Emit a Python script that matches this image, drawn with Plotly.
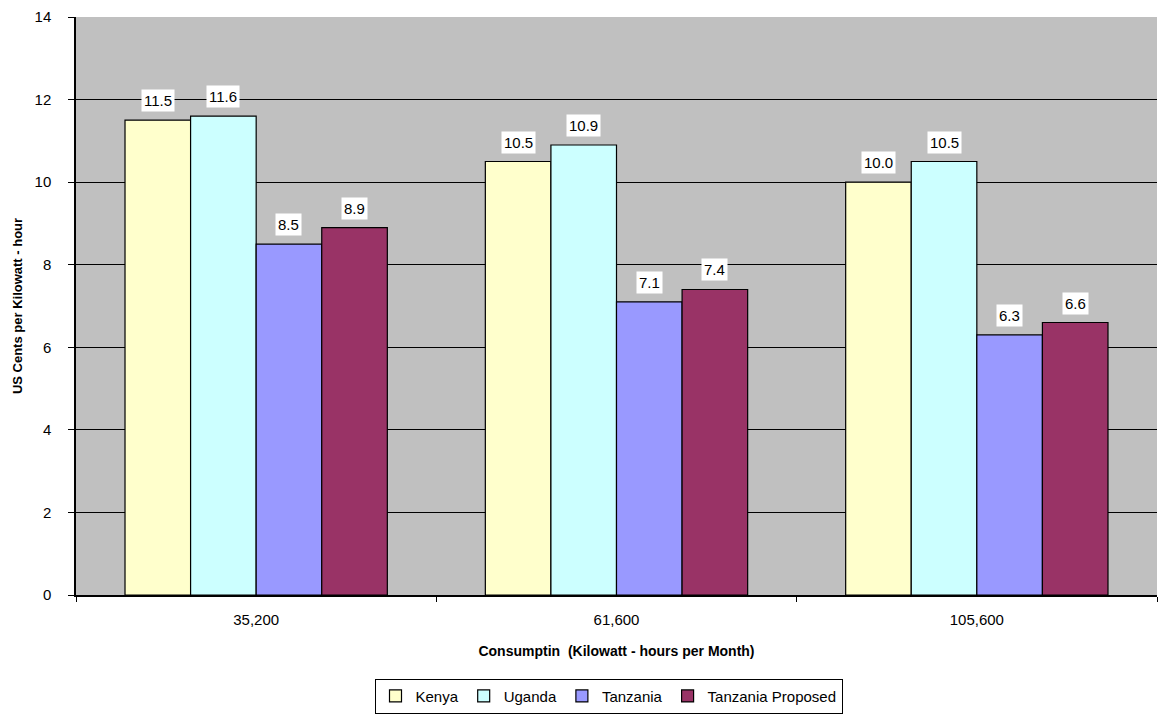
import plotly.graph_objects as go

categories = ["35,200", "61,600", "105,600"]
series_names = ["Kenya", "Uganda", "Tanzania", "Tanzania Proposed"]
kenya = [11.5, 10.5, 10.0]
uganda = [11.6, 10.9, 10.5]
tanzania = [8.5, 7.1, 6.3]
tanzania_proposed = [8.9, 7.4, 6.6]
y_ticks = [0, 2, 4, 6, 8, 10, 12, 14]

series_values = [kenya, uganda, tanzania, tanzania_proposed]
colors = ["#FFFFCC", "#CCFFFF", "#9999FF", "#993366"]

FONT = "Liberation Sans, Arial, sans-serif"
bar_w = 0.182
xs = list(range(len(categories)))

fig = go.Figure()
annotations = []
for k, (name, vals, col) in enumerate(zip(series_names, series_values, colors)):
    off = (k - 1.5) * bar_w
    fig.add_trace(go.Bar(
        x=xs, y=vals, name=name, width=bar_w, offset=off - bar_w / 2,
        marker=dict(color=col, line=dict(color="black", width=1.2)),
    ))
    for i, v in enumerate(vals):
        annotations.append(dict(
            x=i + off, y=v, xref="x", yref="y", text=f"{v:.1f}",
            showarrow=False, yanchor="bottom", yshift=8,
            bgcolor="white", borderpad=2,
            font=dict(family=FONT, size=15, color="black"),
        ))

# category labels on a second axis; boundary ticks on the primary one
fig.add_trace(go.Scatter(x=xs, y=[0] * len(xs), xaxis="x2", mode="markers",
                         marker=dict(opacity=0), showlegend=False, hoverinfo="skip"))

fig.update_layout(
    width=1158, height=715,
    margin=dict(l=76, r=1, t=17, b=120),
    paper_bgcolor="white", plot_bgcolor="#C0C0C0",
    barmode="overlay",
    font=dict(family=FONT, size=15, color="black"),
    annotations=annotations,
    xaxis=dict(
        range=[-0.5, 2.5], tickvals=[-0.5, 0.5, 1.5, 2.5], ticktext=["", "", "", ""],
        ticks="outside", ticklen=5, tickcolor="black", showline=True,
        linecolor="black", linewidth=1.5, showgrid=False, zeroline=False,
        title=dict(text="<b>Consumptin  (Kilowatt - hours per Month)</b>",
                   font=dict(family=FONT, size=14), standoff=42),
    ),
    xaxis2=dict(
        range=[-0.5, 2.5], overlaying="x", side="bottom", tickvals=xs,
        ticktext=categories, showgrid=False, showline=False, zeroline=False,
        ticks="", tickfont=dict(family=FONT, size=15), ticklabelstandoff=14,
        anchor="y",
    ),
    yaxis=dict(
        range=[0, 14], tickvals=y_ticks, ticks="outside", ticklen=6,
        tickcolor="black", showline=True, linecolor="black", linewidth=1.5,
        showgrid=True, gridcolor="black", gridwidth=1.2, zeroline=False,
        tickfont=dict(family=FONT, size=15), ticklabelstandoff=14,
        title=dict(text="<b>US Cents per Kilowatt - hour</b>",
                   font=dict(family=FONT, size=13), standoff=9),
    ),
    legend=dict(
        orientation="h", x=0.4926, xanchor="center", y=-0.175, yanchor="middle",
        bgcolor="white", bordercolor="black", borderwidth=1,
        font=dict(family=FONT, size=15), itemwidth=30, traceorder="normal",
    ),
)

fig.write_html("out.html")
